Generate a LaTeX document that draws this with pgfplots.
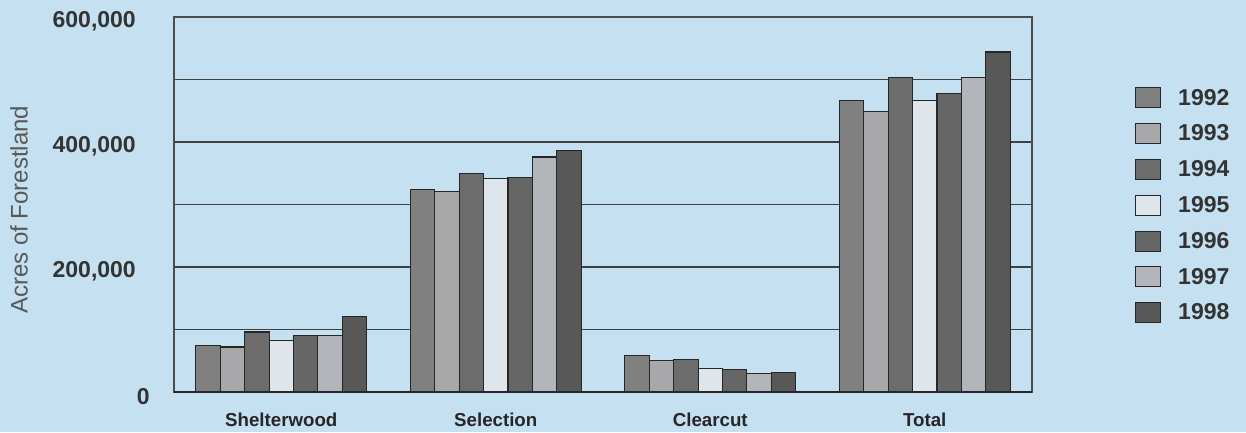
\documentclass[border=0pt]{standalone}
\usepackage{fontspec}
\setmainfont{Liberation Sans}
\usepackage{pgfplots}
\pgfplotsset{compat=1.18}

\definecolor{bg}{RGB}{197,224,240}
\definecolor{c92}{RGB}{128,128,128}
\definecolor{c93}{RGB}{168,168,170}
\definecolor{c94}{RGB}{108,108,108}
\definecolor{c95}{RGB}{222,230,236}
\definecolor{c96}{RGB}{102,102,102}
\definecolor{c97}{RGB}{178,182,186}
\definecolor{c98}{RGB}{88,88,88}

\begin{document}
\begin{tikzpicture}[x=1pt,y=1pt]
\fill[bg] (0,0) rectangle (1246,432);
\useasboundingbox (0,0) rectangle (1246,432);
\begin{axis}[
    at={(174pt,40pt)}, anchor=south west,
    scale only axis,
    width=858pt, height=375pt,
    xmin=-0.5, xmax=3.5,
    ymin=0, ymax=600000,
    ybar=0pt, bar width=24.4pt,
    xtick={0,1,2,3},
    xticklabels={Shelterwood,Selection,Clearcut,Total},
    ytick={0,200000,400000,600000},
    yticklabels={{0\hspace*{-16pt}},{200,000},{400,000},{600,000}},
    minor ytick={100000,300000,500000},
    scaled y ticks=false,
    ymajorgrids, yminorgrids,
    major grid style={black!75, line width=1.1pt},
    minor grid style={black!75, line width=1.1pt},
    major tick length=0pt, minor tick length=0pt,
    axis line style={black!70, line width=1.1pt},
    extra y ticks={0}, extra y tick labels={},
    extra y tick style={grid=major, major grid style={black!85, line width=2.6pt}},
    yticklabel style={font=\bfseries\fontsize{23}{26}\selectfont, text=black!80,
        anchor=east, inner sep=0pt, xshift=-38pt, yshift=-4.5pt},
    xticklabel style={font=\bfseries\fontsize{18.7}{21}\selectfont, text=black!85,
        anchor=north, inner sep=0pt, yshift=-20.5pt},
    ylabel={Acres of Forestland},
    ylabel style={font=\fontsize{24}{26}\selectfont, text=black!65,
        at={(axis description cs:-0.191,0.486)}, anchor=north, inner sep=0pt},
    every axis plot/.append style={draw=black!85, line width=1.1pt,
        legend image code/.code={
            \draw[##1, line width=1pt] (0pt,-10pt) rectangle (25pt,10pt);
            \path (42pt,0pt);}},
    legend style={at={(1.12,0.498)}, anchor=west, draw=none, fill=none,
        inner sep=0pt, row sep=14.8pt,
        font=\bfseries\fontsize{23}{26}\selectfont, text=black!80,
        nodes={inner sep=0pt}},
    legend cell align=left,
]
\addplot[fill=c92] coordinates {(0,75000) (1,324000) (2,58000) (3,467000)};
\addplot[fill=c93] coordinates {(0,72000) (1,321000) (2,50000) (3,449000)};
\addplot[fill=c94] coordinates {(0,96000) (1,350000) (2,52000) (3,503000)};
\addplot[fill=c95] coordinates {(0,82000) (1,342000) (2,37000) (3,466000)};
\addplot[fill=c96] coordinates {(0,90000) (1,343000) (2,36000) (3,477000)};
\addplot[fill=c97] coordinates {(0,90000) (1,376000) (2,30000) (3,503000)};
\addplot[fill=c98] coordinates {(0,121000) (1,386000) (2,31000) (3,544000)};
\legend{1992,1993,1994,1995,1996,1997,1998}
\end{axis}
\end{tikzpicture}
\end{document}
